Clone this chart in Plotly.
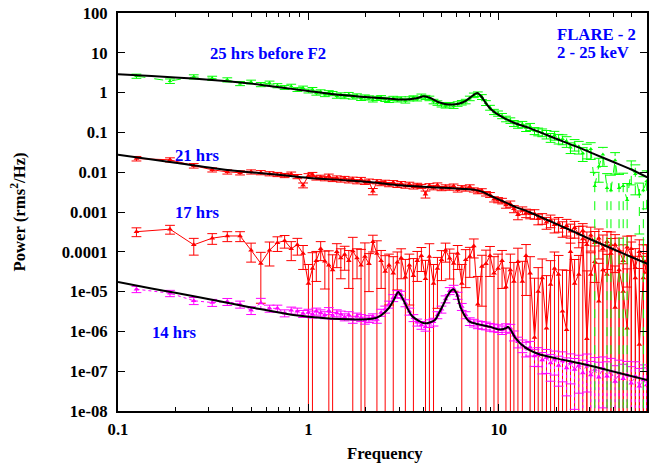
import plotly.graph_objects as go

# ---- shared frequency grid (Hz) ----
freq = [0.125, 0.1875, 0.25, 0.3125, 0.375, 0.4375, 0.5, 0.5625, 0.625, 0.6875,
        0.75, 0.8125, 0.875, 0.9375, 1.0, 1.05, 1.10, 1.16, 1.22, 1.28,
        1.34, 1.41, 1.48, 1.55, 1.63, 1.71, 1.80, 1.89, 1.98, 2.08,
        2.18, 2.29, 2.41, 2.53, 2.65, 2.79, 2.93, 3.07, 3.23, 3.39,
        3.56, 3.73, 3.92, 4.12, 4.32, 4.54, 4.76, 5.00, 5.25, 5.52,
        5.79, 6.08, 6.39, 6.70, 7.04, 7.39, 7.76, 8.15, 8.56, 8.99,
        9.43, 9.91, 10.4, 10.9, 11.5, 12.0, 12.6, 13.3, 13.9, 14.6,
        15.4, 16.1, 16.9, 17.8, 18.7, 19.6, 20.6, 21.6, 22.7, 23.8,
        25.0, 26.3, 27.6, 29.0, 30.4, 31.9, 33.5, 35.2, 37.0, 38.8,
        40.8, 42.8, 45.0, 47.2, 49.6, 52.1, 54.7, 57.4, 59.8]

# ---- 25 hrs before F2 (green) ----
green_pow = [2.6, 1.95, 2.5, 2.3, 2.1, 1.7, 1.85, 1.6, 1.75, 1.5,
             1.35, 1.45, 1.2, 1.3, 1.1, 1.2, 0.98, 1.05, 0.9, 1.0,
             0.95, 0.82, 0.88, 0.8, 0.9, 0.78, 0.83, 0.72, 0.78, 0.74,
             0.66, 0.72, 0.75, 0.68, 0.64, 0.72, 0.66, 0.7, 0.62, 0.7,
             0.74, 0.7, 0.82, 0.76, 0.72, 0.6, 0.55, 0.5, 0.47, 0.5,
             0.46, 0.52, 0.56, 0.6, 0.72, 0.86, 0.92, 0.78, 0.55, 0.42,
             0.33, 0.3, 0.26, 0.22, 0.2, 0.17, 0.155, 0.16, 0.13, 0.14,
             0.11, 0.105, 0.1, 0.09, 0.075, 0.085, 0.07, 0.068, 0.06, 0.042,
             0.05, 0.044, 0.03, 0.036, 0.038, 0.0045, 0.014, 0.028, 0.004, 0.0035,
             0.02, 0.004, 0.0045, 0.002, 0.012, 0.009, 0.0028, 0.0035, 0.006]
green_err = [.12, .13, .12, .12, .12, .12, .11, .12, .11, .12,
             .11, .12, .11, .12, .11, .12, .12, .12, .12, .12,
             .12, .12, .12, .12, .12, .12, .12, .12, .12, .12,
             .12, .12, .12, .12, .12, .12, .12, .12, .12, .12,
             .12, .12, .12, .12, .13, .13, .13, .13, .13, .13,
             .13, .13, .13, .13, .13, .13, .13, .14, .14, .14,
             .15, .15, .15, .16, .16, .17, .18, .18, .19, .2,
             .2, .22, .22, .24, .25, .25, .27, .28, .3, .3,
             .32, .35, .38, .4, .45, 1.2, .6, .5, 1.3, 1.4,
             .55, 1.2, 1.1, 1.6, .6, .7, .9, 1.2, .8]

# ---- 21 hrs (red) ----
red21_pow = [0.022, 0.0205, 0.0146, 0.0115, 0.0102, 0.0097, 0.0102, 0.0098, 0.0092, 0.0088,
             0.0083, 0.0090, 0.0078, 0.0047, 0.0082, 0.0088, 0.0072, 0.0075, 0.0069, 0.0080,
             0.0066, 0.0072, 0.0064, 0.0070, 0.0061, 0.0067, 0.0058, 0.0066, 0.0056, 0.0060,
             0.0033, 0.0058, 0.0052, 0.0056, 0.0049, 0.0055, 0.0047, 0.0052, 0.0045, 0.0050,
             0.0043, 0.0047, 0.0044, 0.0028, 0.0046, 0.0041, 0.0048, 0.0039, 0.0043, 0.0040,
             0.0045, 0.0036, 0.0041, 0.0038, 0.0043, 0.0036, 0.0033, 0.0034, 0.0029, 0.0027,
             0.0021, 0.0020, 0.0019, 0.0015, 0.0016, 0.0012, 0.00085, 0.0011, 0.00095, 0.0009,
             0.0009, 0.00068, 0.0007, 0.00055, 0.00062, 0.00048, 0.00052, 0.0004, 0.00045, 0.00033,
             0.0004, 0.00028, 0.00034, 0.00015, 0.00026, 0.00017, 0.00022, 0.00012, 0.00018, 0.00009,
             0.00015, 0.00011, 0.00006, 0.00013, 0.00008, 0.00004, 0.0001, 0.00006, 0.00003]
red21_err = [.13, .12, .13, .12, .12, .12, .12, .12, .12, .12,
             .12, .12, .12, .14, .12, .12, .12, .12, .12, .12,
             .12, .12, .12, .12, .12, .12, .12, .12, .12, .12,
             .18, .12, .12, .12, .12, .12, .12, .12, .12, .12,
             .12, .12, .12, .2, .12, .12, .12, .12, .12, .12,
             .12, .12, .12, .12, .12, .12, .13, .13, .13, .14,
             .15, .15, .16, .17, .18, .2, .25, .22, .24, .25,
             .27, .3, .3, .33, .35, .38, .4, .42, .45, .5,
             .45, .55, .5, 1.1, .6, .9, .7, 1.2, .8, 1.4,
             .8, 1.0, 1.5, .9, 1.2, 2.0, 1.0, 1.5, 2.0]

# ---- 17 hrs (red) ----
red17_pow = [3.2e-4, 3.7e-4, 1.5e-4, 2.2e-4, 2.5e-4, 2.5e-4, 1.1e-4, 5.1e-5, 1.1e-4, 1.7e-4,
             1.9e-4, 1.2e-4, 1.5e-4, 9e-5, 1.6e-5, 3.8e-5, 6e-5, 1.2e-4, 5.8e-5, 4.6e-5,
             3.5e-5, 1.0e-4, 7e-5, 8.6e-5, 6e-5, 1.05e-4, 7e-5, 4.6e-5, 7.6e-5, 5e-5,
             1.8e-4, 9e-5, 6e-5, 3.2e-5, 4.6e-5, 2.9e-5, 5.5e-5, 7e-5, 2.3e-5, 4.6e-5,
             2.5e-5, 6e-5, 8e-5, 2.1e-5, 7.6e-5, 1.6e-5, 3.8e-5, 6.3e-5, 1.1e-4, 6.9e-5,
             5.1e-5, 9e-5, 1.6e-5, 6.3e-5, 7.6e-5, 1.4e-4, 4.8e-6, 4.3e-5, 5e-5, 8e-5,
             2.9e-5, 3.8e-5, 6e-5, 1.3e-5, 3.5e-5, 1.8e-5, 5.6e-5, 1.8e-5, 8e-5, 2.9e-5,
             7e-7, 1e-5, 2.2e-5, 1.2e-6, 1.5e-5, 3.8e-5, 2.7e-5, 3.2e-6, 1.1e-6, 1e-4,
             1.6e-5, 2.7e-5, 2.1e-4, 6.5e-7, 2.7e-5, 5.6e-5, 5.7e-6, 3.5e-5, 2.7e-5, 1.5e-4,
             4e-6, 3.5e-5, 1e-5, 1.2e-6, 1.2e-4, 2.2e-5, 4.7e-7, 2.2e-5, 6e-5]
red17_err = [.25, .25, .45, .3, .28, .28, .5, .9, .6, .4,
             .35, .5, .45, .6, 2.0, 1.5, .7, .5, .8, 1.3,
             1.4, .6, .7, .6, .8, 1.2, .7, 1.5, 1.2, .8,
             .45, 1.1, .8, 1.5, .9, 1.6, .8, .7, 1.8, .9,
             1.7, .7, .6, 1.9, 1.1, 2.0, .9, .7, .5, .7,
             .8, .6, 2.0, .8, .7, .5, 4.0, .9, 1.2, .7,
             1.6, 1.3, .8, 2.0, 1.5, 2.0, 1.2, 2.2, .9, 1.6,
             30, 3, 2, 20, 3, 1.6, 2, 10, 30, 1.2,
             3, 2, 1.1, 50, 2.5, 1.5, 8, 2, 2.2, 1.1,
             10, 2, 4, 30, 1.1, 2.5, 80, 2.5, 1.5]

# ---- 14 hrs (magenta) ----
mag_pow = [1.15e-5, 9.1e-6, 5.9e-6, 5.3e-6, 5.6e-6, 4.8e-6, 3.4e-6, 5.2e-6, 3.8e-6, 3.8e-6,
           2.9e-6, 3.4e-6, 3.2e-6, 2.8e-6, 3.0e-6, 2.7e-6, 3.2e-6, 2.9e-6, 2.6e-6, 3.3e-6,
           2.5e-6, 2.9e-6, 2.7e-6, 2.3e-6, 2.6e-6, 2.0e-6, 2.4e-6, 2.2e-6, 1.9e-6, 2.1e-6,
           2.3e-6, 2.0e-6, 3.0e-6, 3.6e-6, 4.8e-6, 7.0e-6, 8.8e-6, 8.5e-6, 5.2e-6, 3.2e-6,
           2.2e-6, 1.7e-6, 1.45e-6, 1.3e-6, 1.6e-6, 1.75e-6, 2.6e-6, 3.6e-6, 6.5e-6, 1.05e-5,
           1.2e-5, 8.0e-6, 4.2e-6, 2.6e-6, 1.8e-6, 1.65e-6, 1.5e-6, 1.45e-6, 1.4e-6, 1.3e-6,
           1.25e-6, 1.2e-6, 1.1e-6, 1.25e-6, 1.2e-6, 8e-7, 5.5e-7, 4.5e-7, 3.8e-7, 4.0e-7,
           2.4e-7, 2.6e-7, 1.9e-7, 2.2e-7, 1.6e-7, 2.0e-7, 1.4e-7, 1.8e-7, 1.2e-7, 1.6e-7,
           1.1e-7, 1.4e-7, 9e-8, 1.5e-7, 8e-8, 1.1e-7, 7e-8, 1.2e-7, 7.5e-8, 1.0e-7,
           5.5e-8, 9e-8, 6.5e-8, 8e-8, 5e-8, 7.5e-8, 4.2e-8, 6e-8, 4.5e-8]
mag_err = [.18, .18, .2, .2, .2, .2, .22, .3, .2, .2,
           .2, .2, .2, .2, .2, .2, .2, .2, .2, .2,
           .2, .2, .2, .2, .2, .2, .2, .2, .2, .2,
           .2, .2, .2, .2, .2, .2, .2, .2, .2, .2,
           .2, .2, .22, .22, .22, .22, .2, .2, .2, .2,
           .2, .2, .2, .2, .22, .22, .22, .22, .22, .22,
           .22, .22, .24, .24, .25, .28, .3, .35, .4, .4,
           .45, .5, .55, .6, .65, .6, .7, .7, .8, .7,
           .9, .8, 1.1, .8, 1.2, 1.0, 1.4, .9, 1.3, 1.1,
           1.5, 1.1, 1.3, 1.2, 1.6, 1.3, 1.8, 1.4, 1.7]

# ---- model fits (power law + Lorentzians), sampled ----
green_fit_f = [0.1, 0.15, 0.2, 0.3, 0.5, 0.7, 1.0, 1.4, 1.64, 2.0, 2.5, 3.0, 3.4, 3.7, 4.05,
               4.4, 4.8, 5.2, 5.7, 6.2, 6.7, 7.2, 7.7, 8.1, 8.6, 9.1, 9.6, 10.5, 12, 14.4,
               18, 22, 26.2, 32, 40, 50, 60.3]
green_fit_p = [2.88, 2.6, 2.4, 2.1, 1.68, 1.36, 1.10, 0.90, 0.84, 0.77, 0.72, 0.67, 0.68, 0.72, 0.81,
               0.72, 0.58, 0.52, 0.50, 0.53, 0.62, 0.80, 0.98, 0.80, 0.52, 0.38, 0.31, 0.24, 0.175, 0.13,
               0.085, 0.058, 0.042, 0.028, 0.018, 0.0115, 0.0074]

red21_fit_f = [0.1, 0.2, 0.342, 0.49, 0.7, 1.0, 1.64, 2.3, 3.0, 4.0, 5.5, 6.5, 7.5, 8.2, 9.0,
               10.4, 12.2, 14.4, 18, 21.4, 26.2, 30, 40, 50, 60.3]
red21_fit_p = [0.0275, 0.0173, 0.012, 0.010, 0.0086, 0.0072, 0.0062, 0.0054, 0.0047, 0.0043, 0.0040,
               0.0038, 0.0036, 0.0032, 0.0026, 0.0019, 0.00135, 0.001, 0.00063, 0.000435, 0.000284,
               0.00021, 0.000116, 0.000073, 0.00005]

mag_fit_f = [0.1, 0.15, 0.2, 0.342, 0.5, 0.7, 0.8, 1.0, 1.45, 1.9, 2.2, 2.36, 2.45, 2.65, 2.8,
             2.96, 3.1, 3.24, 3.51, 4.05, 4.6, 4.85, 5.1, 5.36, 5.55, 5.77, 6.0, 6.31, 6.97, 7.85,
             9.0, 10.0, 10.8, 11.2, 11.6, 12.2, 13.8, 16.2, 20, 26.2, 35, 45, 60.3]
mag_fit_p = [1.74e-5, 1.2e-5, 9.3e-6, 5.75e-6, 4.0e-6, 3.0e-6, 2.65e-6, 2.35e-6, 2.05e-6, 2.0e-6,
             2.1e-6, 2.4e-6, 2.7e-6, 3.9e-6, 6.0e-6, 9.8e-6, 7.2e-6, 4.7e-6, 2.4e-6, 1.6e-6,
             1.9e-6, 2.9e-6, 4.6e-6, 7.6e-6, 1.0e-5, 1.15e-5, 9.0e-6, 3.9e-6, 1.8e-6, 1.5e-6,
             1.3e-6, 1.12e-6, 1.18e-6, 1.3e-6, 1.05e-6, 6.9e-7, 3.9e-7, 2.7e-7, 2.1e-7, 1.6e-7,
             1.15e-7, 8.5e-8, 6e-8]

y_tickvals = [1e2, 1e1, 1, 1e-1, 1e-2, 1e-3, 1e-4, 1e-5, 1e-6, 1e-7, 1e-8]
y_ticktext = ["100", "10", "1", "0.1", "0.01", "0.001", "0.0001",
              "1e-05", "1e-06", "1e-07", "1e-08"]
x_tickvals = [0.1, 1, 10]
x_ticktext = ["0.1", "1", "10"]
x_minor = [0.2, 0.3, 0.4, 0.5, 0.6, 0.7, 0.8, 0.9,
           2, 3, 4, 5, 6, 7, 8, 9, 20, 30, 40, 50, 60]

FONT = "Liberation Serif"
BLUE = "#0000ff"
FLOOR = 1e-12  # lower end for bars whose error exceeds the value


def add_series(fig, f, p, rel, color, dash, msize):
    """Points joined by a line, with vertical error bars and caps."""
    bx, by, cx, cy = [], [], [], []
    for fi, pi, ri in zip(f, p, rel):
        lo = pi * (1 - ri)
        hi = pi * (1 + ri)
        bx += [fi, fi, None]
        by += [lo if lo > 0 else FLOOR, hi, None]
        cx.append(fi)
        cy.append(hi)
        if lo > 0:
            cx.append(fi)
            cy.append(lo)
    fig.add_trace(go.Scatter(x=bx, y=by, mode="lines",
                             line=dict(color=color, width=1, dash=dash),
                             hoverinfo="skip"))
    fig.add_trace(go.Scatter(x=cx, y=cy, mode="markers",
                             marker=dict(symbol="line-ew", size=7,
                                         line=dict(color=color, width=1)),
                             hoverinfo="skip"))
    fig.add_trace(go.Scatter(x=f, y=p, mode="lines+markers",
                             line=dict(color=color, width=1, dash=dash),
                             marker=dict(symbol="triangle-up", size=msize, color=color),
                             hoverinfo="skip"))


fig = go.Figure()
add_series(fig, freq, red17_pow, red17_err, "#ff0000", "solid", 5)
add_series(fig, freq, red21_pow, red21_err, "#ff0000", "solid", 5)
add_series(fig, freq, mag_pow, mag_err, "#ff00ff", "dot", 5)
add_series(fig, freq, green_pow, green_err, "#00ff00", "dash", 4)

for ff, pp in [(green_fit_f, green_fit_p), (red21_fit_f, red21_fit_p), (mag_fit_f, mag_fit_p)]:
    fig.add_trace(go.Scatter(x=ff, y=pp, mode="lines",
                             line=dict(color="black", width=2, shape="spline", smoothing=0.7),
                             hoverinfo="skip"))

tick_font = dict(family=FONT, size=16.7, color="black")
lab_font = dict(family=FONT, size=16.7, color=BLUE)


def bold(labels):
    return ["<b>%s</b>" % t for t in labels]


fig.update_xaxes(type="log", range=[-1, 1.7782],
                 tickmode="array", tickvals=x_tickvals, ticktext=bold(x_ticktext),
                 ticks="inside", ticklen=7, tickwidth=1, tickcolor="black",
                 minor=dict(tickmode="array", tickvals=x_minor, ticks="inside",
                            ticklen=4, tickwidth=1, tickcolor="black", showgrid=False),
                 showline=True, linewidth=2, linecolor="black", mirror="allticks",
                 showgrid=False, zeroline=False, tickfont=tick_font,
                 ticklabelstandoff=2)
fig.update_yaxes(type="log", range=[-8, 2],
                 tickmode="array", tickvals=y_tickvals, ticktext=bold(y_ticktext),
                 ticks="inside", ticklen=7, tickwidth=1, tickcolor="black",
                 showline=True, linewidth=2, linecolor="black", mirror="allticks",
                 showgrid=False, zeroline=False, tickfont=tick_font,
                 ticklabelstandoff=5)

annotations = [
    dict(text="25 hrs before F2", x=-0.2147, y=0.99, xanchor="center"),
    dict(text="FLARE - 2", x=1.297, y=1.471, xanchor="left"),
    dict(text="2 - 25 keV", x=1.297, y=1.007, xanchor="left"),
    dict(text="21 hrs", x=-0.583, y=-1.571, xanchor="center"),
    dict(text="17 hrs", x=-0.583, y=-3.0, xanchor="center"),
    dict(text="14 hrs", x=-0.705, y=-6.017, xanchor="center"),
]
for a in annotations:
    a["text"] = "<b>%s</b>" % a["text"]
    fig.add_annotation(xref="x", yref="y", yanchor="middle", showarrow=False,
                       font=lab_font, **a)

fig.add_annotation(text="<b>Frequency</b>", xref="paper", yref="paper", x=0.5038, y=-0.107,
                   xanchor="center", yanchor="middle", showarrow=False, font=tick_font)
fig.add_annotation(text="<b>Power (rms<sup>2</sup>/Hz)</b>", xref="paper", yref="paper",
                   x=-0.1874, y=0.501, xanchor="center", yanchor="middle",
                   textangle=-90, showarrow=False, font=tick_font)

fig.update_layout(width=653, height=466, showlegend=False,
                  margin=dict(l=118, r=4, t=10, b=55),
                  plot_bgcolor="white", paper_bgcolor="white")

fig.write_html("out.html")
